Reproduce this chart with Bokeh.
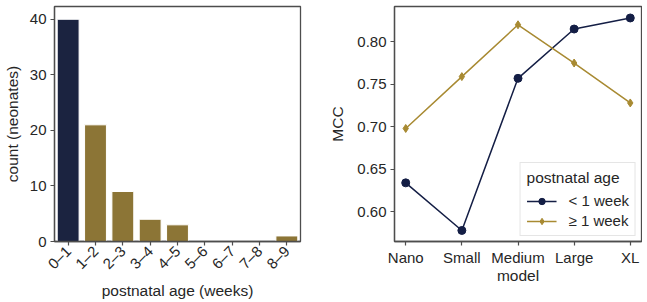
from bokeh.plotting import figure
from bokeh.layouts import row
from bokeh.models import Range1d, FixedTicker, Legend, LegendItem, NumeralTickFormatter
from bokeh.embed import file_html
from bokeh.resources import INLINE

# ---- data ----
age_bins = ["0–1", "1–2", "2–3", "3–4", "4–5", "5–6", "6–7", "7–8", "8–9"]
counts = [40, 21, 9, 4, 3, 0, 0, 0, 1]
bar_colors = ["#1b2340"] + ["#8c7536"] * 8

models = ["Nano", "Small", "Medium", "Large", "XL"]
mcc_lt1 = [0.634, 0.578, 0.757, 0.815, 0.828]
mcc_ge1 = [0.698, 0.759, 0.820, 0.775, 0.728]
y_ticks = [0.60, 0.65, 0.70, 0.75, 0.80]
count_ticks = [0, 10, 20, 30, 40]

FONT = "Liberation Sans"
TXT = "#262626"
FRAME = "#4d4d4d"
NAVY = "#141e45"
GOLD = "#a88a32"


def style(p):
    p.outline_line_color = FRAME
    p.outline_line_width = 1.3
    p.grid.visible = False
    for ax in (p.xaxis, p.yaxis):
        ax.axis_line_color = FRAME
        ax.axis_line_width = 1.3
        ax.major_tick_line_color = FRAME
        ax.major_tick_line_width = 1.2
        ax.major_tick_in = 0
        ax.major_tick_out = 4
        ax.minor_tick_line_color = None
        ax.major_label_text_font = FONT
        ax.major_label_text_font_size = "15px"
        ax.major_label_text_color = TXT
        ax.axis_label_text_font = FONT
        ax.axis_label_text_font_size = "15.5px"
        ax.axis_label_text_font_style = "normal"
        ax.axis_label_text_color = TXT
    p.background_fill_color = "white"
    p.border_fill_color = "white"


# ---- left: histogram ----
p1 = figure(x_range=age_bins, y_range=Range1d(0, 42.3),
            frame_width=246, frame_height=235,
            min_border_left=43, min_border_right=24, min_border_top=6, min_border_bottom=52,
            output_backend="svg", toolbar_location=None)
p1.vbar(x=age_bins, top=counts, width=0.8, fill_color=bar_colors,
        line_color="white", line_width=1)
style(p1)
p1.x_range.range_padding = 0
p1.yaxis.ticker = FixedTicker(ticks=count_ticks)
p1.xaxis.major_label_orientation = 0.785
p1.xaxis.major_label_standoff = 3
p1.xaxis.axis_label = "postnatal age (weeks)"
p1.xaxis.axis_label_standoff = 1
p1.yaxis.axis_label = "count (neonates)"
p1.yaxis.axis_label_standoff = 6
p1.yaxis.major_label_standoff = 4

# ---- right: line plot ----
xs = list(range(len(models)))
p2 = figure(x_range=Range1d(-0.2, len(models) - 0.8), y_range=Range1d(0.565, 0.8415),
            frame_width=247, frame_height=235,
            min_border_left=70, min_border_right=1, min_border_top=6, min_border_bottom=52,
            output_backend="svg", toolbar_location=None)
l1 = p2.line(xs, mcc_lt1, line_color=NAVY, line_width=1.5)
s1 = p2.scatter(xs, mcc_lt1, marker="circle", size=8, fill_color=NAVY, line_color=NAVY)
l2 = p2.line(xs, mcc_ge1, line_color=GOLD, line_width=1.5)
s2 = p2.scatter(xs, mcc_ge1, marker="diamond", size=8, fill_color=GOLD, line_color=GOLD)
style(p2)
p2.xaxis.ticker = FixedTicker(ticks=xs)
p2.xaxis.major_label_overrides = {i: m for i, m in enumerate(models)}
p2.xaxis.major_label_standoff = 3
p2.xaxis.axis_label = "model"
p2.xaxis.axis_label_standoff = -2
p2.yaxis.ticker = FixedTicker(ticks=y_ticks)
p2.yaxis.formatter = NumeralTickFormatter(format="0.00")
p2.yaxis.axis_label = "MCC"
p2.yaxis.axis_label_standoff = 8
p2.yaxis.major_label_standoff = 4

legend = Legend(items=[LegendItem(label="< 1 week", renderers=[l1, s1]),
                       LegendItem(label="≥ 1 week", renderers=[l2, s2])],
                location="bottom_right", title="postnatal age")
legend.title_text_font = FONT
legend.title_text_font_size = "15.5px"
legend.title_text_font_style = "normal"
legend.title_text_color = TXT
legend.label_text_font = FONT
legend.label_text_font_size = "15px"
legend.label_text_color = TXT
legend.glyph_width = 30
legend.glyph_height = 16
legend.spacing = 3
legend.padding = 6
legend.margin = 5
legend.label_standoff = 12
legend.border_line_color = "#cccccc"
legend.border_line_width = 1
legend.background_fill_alpha = 0.9
p2.add_layout(legend)

layout = row(p1, p2)
open("out.html", "w").write(file_html(layout, INLINE))
